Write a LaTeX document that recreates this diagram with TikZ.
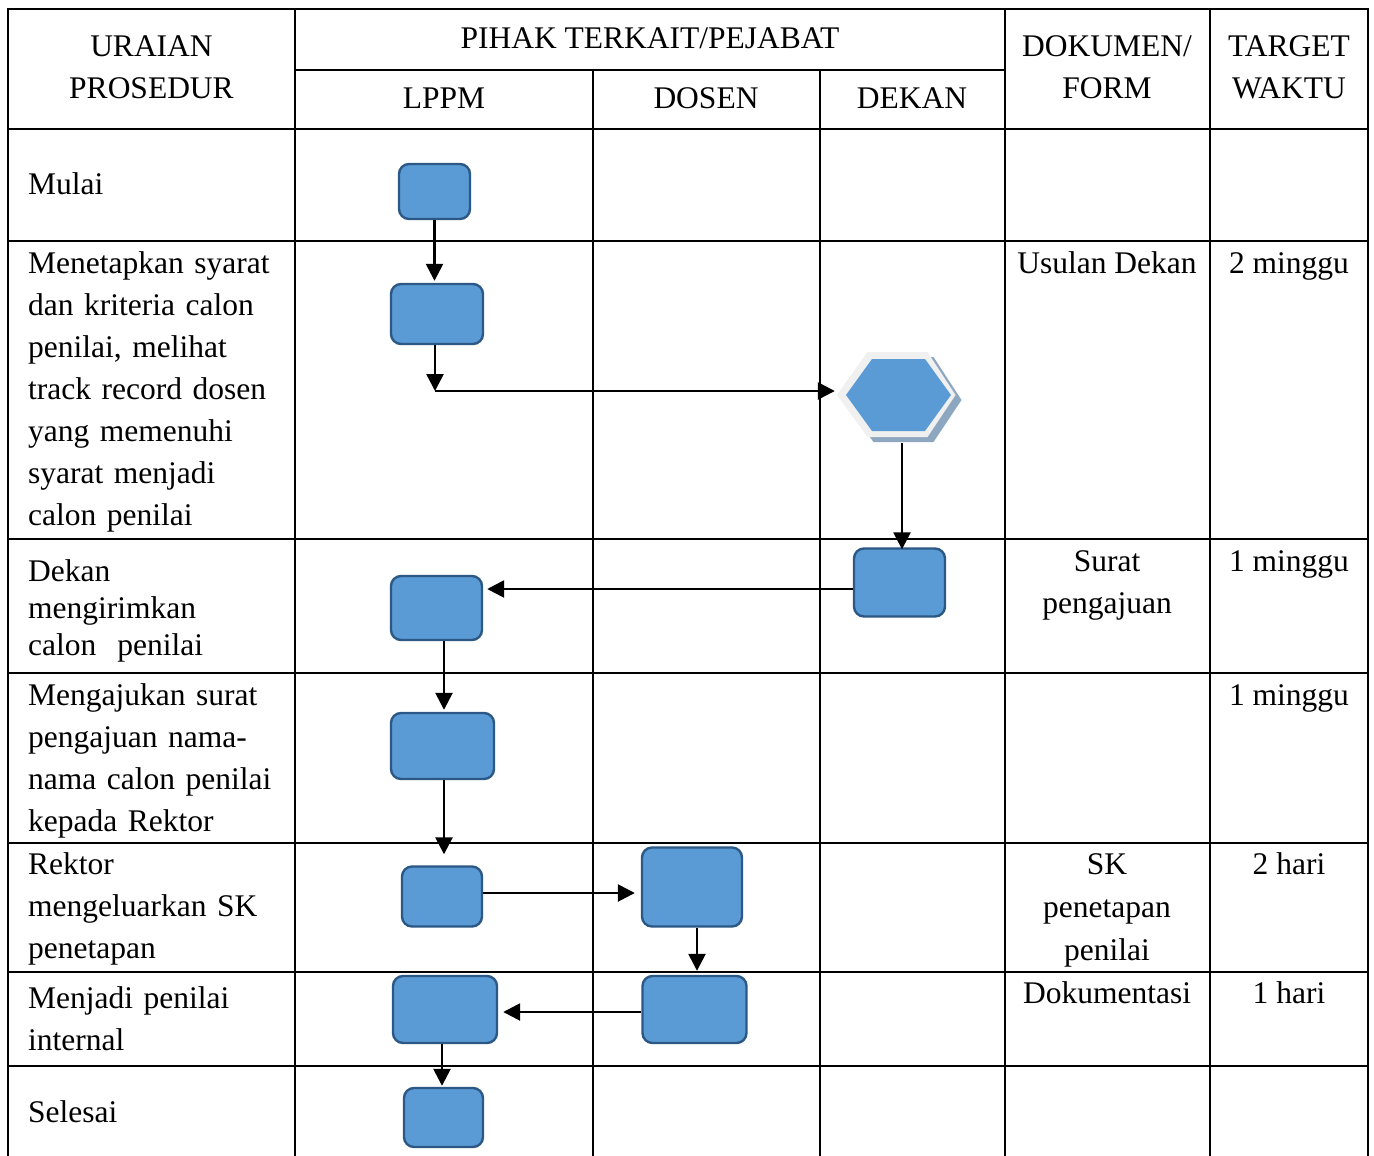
\documentclass[tikz,border=0pt]{standalone}
\usepackage{fontspec}
\setmainfont{Liberation Serif}
\usetikzlibrary{arrows.meta,calc}
\definecolor{boxblue}{HTML}{5B9BD5}
\definecolor{boxline}{HTML}{2C5885}
\definecolor{hexshadow}{HTML}{8EA7C0}
\definecolor{hexlight}{HTML}{F0F0F0}
\begin{document}
\begin{tikzpicture}[x=1pt,y=-1pt,
 grid/.style={line width=2.4pt, line cap=rect},
 flowbox/.style={draw=boxline, fill=boxblue, line width=2.4pt, rounded corners=10pt, inner sep=0pt},
 arr/.style={line width=2.6pt, -{Triangle[length=17pt,width=17pt]}},
 txt/.style={font=\fontsize{31.5}{42}\selectfont, inner sep=0pt},
 coltext/.style={txt, anchor=base west, text width=265pt, align=left},
 ctext/.style={txt, anchor=base, align=center},
]
\useasboundingbox (0,0) rectangle (1374,1156);
% table
\draw[grid] (8,9) -- (1368,9);
\foreach \x in {8,295,1005,1210,1368} \draw[grid] (\x,9) -- (\x,1160);
\foreach \x in {593,820} \draw[grid] (\x,70) -- (\x,1160);
\draw[grid] (295,70) -- (1005,70);
\foreach \y in {129,241,539,673,843,972,1066} \draw[grid] (8,\y) -- (1368,\y);
% header
\node[ctext, text width=280pt] (hUraian) at (151.5,57) {URAIAN\\PROSEDUR};
\node[ctext] (hPihak) at (650,49) {PIHAK TERKAIT/PEJABAT};
\node[ctext] (hLppm) at (444,108) {LPPM};
\node[ctext] (hDosen) at (706,108) {DOSEN};
\node[ctext] (hDekan) at (912,108) {DEKAN};
\node[ctext, text width=195pt] (hDok) at (1107,57) {DOKUMEN/\\FORM};
\node[ctext, text width=150pt] (hTarget) at (1289,57) {TARGET\\WAKTU};
% column 1
\node[coltext] (u1) at (28,194) {Mulai};
\node[coltext] (u2) at (28,273) {Menetapkan syarat\\dan kriteria calon\\penilai, melihat\\track record dosen\\yang memenuhi\\syarat menjadi\\calon penilai};
\node[coltext, font=\fontsize{31.5}{37}\selectfont] (u3) at (28,581) {Dekan\\mengirimkan\\calon\ \ penilai};
\node[coltext] (u4) at (28,705) {Mengajukan surat\\pengajuan nama-\\nama calon penilai\\kepada Rektor};
\node[coltext] (u5) at (28,874) {Rektor\\mengeluarkan SK\\penetapan};
\node[coltext] (u6) at (28,1008) {Menjadi penilai\\internal};
\node[coltext] (u7) at (28,1122) {Selesai};
% documents
\node[ctext] (d2) at (1107,273) {Usulan Dekan};
\node[ctext, text width=195pt] (d3) at (1107,571) {Surat\\pengajuan};
\node[ctext, text width=195pt, font=\fontsize{31.5}{43}\selectfont] (d5) at (1107,874) {SK\\penetapan\\penilai};
\node[ctext] (d6) at (1107,1003) {Dokumentasi};
% target
\node[ctext] (t2) at (1289,273) {2 minggu};
\node[ctext] (t3) at (1289,571) {1 minggu};
\node[ctext] (t4) at (1289,705) {1 minggu};
\node[ctext] (t5) at (1289,874) {2 hari};
\node[ctext] (t6) at (1289,1003) {1 hari};
% flow boxes
\node[flowbox, minimum width=71pt, minimum height=55pt] (b1) at (434.5,191.5) {};
\node[flowbox, minimum width=92pt, minimum height=60pt] (b2) at (437,314) {};
\node[minimum width=123pt, minimum height=86pt, inner sep=0pt] (hex) at (898.5,395) {};
\node[flowbox, minimum width=91pt, minimum height=68pt] (b3) at (899.5,582.5) {};
\node[flowbox, minimum width=91pt, minimum height=64pt] (b4) at (436.5,608) {};
\node[flowbox, minimum width=103pt, minimum height=66pt] (b5) at (442.5,746) {};
\node[flowbox, minimum width=80pt, minimum height=60pt] (b6) at (442,896.5) {};
\node[flowbox, minimum width=100pt, minimum height=79pt] (b7) at (692,887) {};
\node[flowbox, minimum width=104pt, minimum height=67pt] (b8) at (694.5,1009.5) {};
\node[flowbox, minimum width=104pt, minimum height=67pt] (b9) at (445,1009.5) {};
\node[flowbox, minimum width=79pt, minimum height=59pt] (b10) at (443.5,1117.5) {};
\coordinate (c2) at (435,391);
% connectors
\draw[arr, shorten >=2pt] (b1.south) -- (b1.south |- b2.north);
\draw[arr] ([xshift=-2pt]b2.south) -- (c2);
\draw[arr, shorten >=2pt] (c2) -- (c2 -| hex.west);
\draw[arr, shorten >=3pt] ([xshift=3.5pt,yshift=-5pt]hex.south) -- ([xshift=3.5pt,yshift=-5pt]hex.south |- b3.north);
\draw[arr, shorten >=4pt] ([yshift=-6.5pt]b3.west) -- ([yshift=-6.5pt]b3.west -| b4.east);
\draw[arr, shorten >=2pt] ([xshift=7.5pt]b4.south) -- ([xshift=7.5pt]b4.south |- b5.north);
\draw[arr, shorten >=11pt] ([xshift=1.5pt]b5.south) -- ([xshift=1.5pt]b5.south |- b6.north);
\draw[arr, shorten >=6pt] ([yshift=3.5pt]b6.east) -- ([yshift=3.5pt]b6.east -| b7.west);
\draw[arr, shorten >=4pt] ([xshift=5pt]b7.south) -- ([xshift=5pt]b7.south |- b8.north);
\draw[arr, shorten >=5pt] ([yshift=-2.5pt]b8.west) -- ([yshift=-2.5pt]b8.west -| b9.east);
\draw[arr, shorten >=1pt] ([xshift=-3pt]b9.south) -- ([xshift=-3pt]b9.south |- b10.north);
% hexagon
\begin{scope}[shift={(hex.center)}]
 \fill[hexshadow] (-55.5,5) -- (-25,-38) -- (35,-38) -- (63,5) -- (35,47) -- (-25,47) -- cycle;
 \fill[hexlight] (-61.5,0) -- (-31,-43) -- (29,-43) -- (57,0) -- (29,42) -- (-31,42) -- cycle;
 \fill[boxblue] (-52.5,0) -- (-26.5,-36) -- (26.5,-36) -- (52.5,0) -- (26.5,36) -- (-26.5,36) -- cycle;
\end{scope}
\end{tikzpicture}
\end{document}
